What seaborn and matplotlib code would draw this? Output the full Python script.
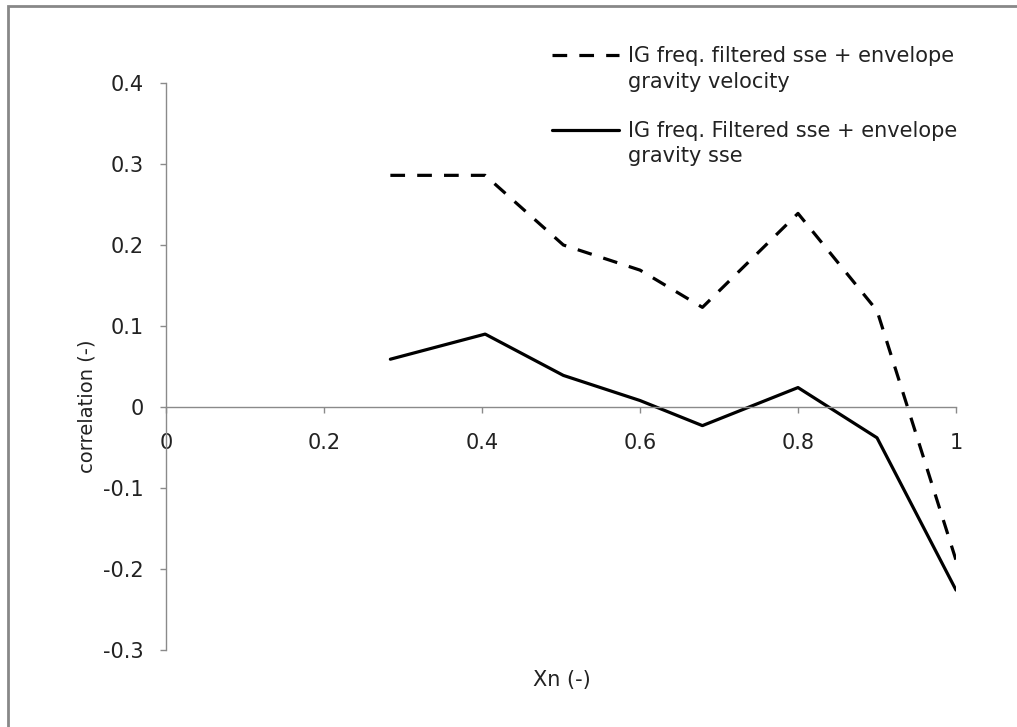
import matplotlib
matplotlib.use("Agg")
import matplotlib.pyplot as plt
import seaborn as sns
import pandas as pd
from matplotlib.patches import Rectangle
from matplotlib.lines import Line2D
from matplotlib.legend_handler import HandlerLine2D

# Normalised position along the profile
xn = [0.284, 0.404, 0.503, 0.600, 0.679, 0.800, 0.900, 1.000]
# Correlation of IG filtered surface elevation with envelope gravity velocity
corr_velocity = [0.286, 0.286, 0.200, 0.169, 0.123, 0.239, 0.119, -0.189]
# Correlation of IG filtered surface elevation with envelope gravity sse
corr_sse = [0.059, 0.090, 0.039, 0.008, -0.023, 0.024, -0.038, -0.226]

label_velocity = "IG freq. filtered sse + envelope\ngravity velocity"
label_sse = "IG freq. Filtered sse + envelope\ngravity sse"

x_ticks = [0, 0.2, 0.4, 0.6, 0.8, 1.0]
x_ticklabels = ["0", "0.2", "0.4", "0.6", "0.8", "1"]
y_ticks = [-0.3, -0.2, -0.1, 0, 0.1, 0.2, 0.3, 0.4]
y_ticklabels = ["-0.3", "-0.2", "-0.1", "0", "0.1", "0.2", "0.3", "0.4"]


class TopAlignedLineHandler(HandlerLine2D):
    """Legend line drawn level with the first row of a two-row label."""

    def __init__(self, lift, **kwargs):
        super().__init__(**kwargs)
        self.lift = lift

    def create_artists(self, legend, orig_handle, xdescent, ydescent,
                       width, height, fontsize, trans):
        artists = super().create_artists(legend, orig_handle, xdescent,
                                         ydescent, width, height,
                                         fontsize, trans)
        for art in artists:
            art.set_ydata([y + self.lift * fontsize for y in art.get_ydata()])
        return artists


sns.set_theme(style="white")
plt.rcParams["font.family"] = ["DejaVu Sans"]

W, H = 1017, 727
fig = plt.figure(figsize=(W / 100, H / 100), dpi=100)
ax = fig.add_axes([166 / W, 1 - 650 / H, 790 / W, 567 / H])

df = pd.DataFrame({
    "xn": xn * 2,
    "corr": corr_velocity + corr_sse,
    "series": [label_velocity] * len(xn) + [label_sse] * len(xn),
})

sns.lineplot(data=df, x="xn", y="corr", style="series",
             style_order=[label_velocity, label_sse],
             dashes={label_velocity: (4.6, 3.8), label_sse: ""},
             color="black", linewidth=2.3, ax=ax, sort=False)

axis_grey = "#8a8a8a"
text_col = "#222222"
fs = 15

ax.set_xlim(0, 1)
ax.set_ylim(-0.3, 0.4)
ax.set_xticks(x_ticks)
ax.set_xticklabels(x_ticklabels)
ax.set_yticks(y_ticks)
ax.set_yticklabels(y_ticklabels)

for side in ("top", "right"):
    ax.spines[side].set_visible(False)
ax.spines["bottom"].set_position(("data", 0))
for side in ("left", "bottom"):
    ax.spines[side].set_color(axis_grey)
    ax.spines[side].set_linewidth(1.0)

ax.tick_params(axis="both", which="major", direction="out", length=4,
               width=1.0, color=axis_grey, labelsize=fs,
               labelcolor=text_col)
ax.tick_params(axis="x", pad=15, bottom=True)
ax.tick_params(axis="y", pad=12, left=True)

ax.set_xlabel("Xn (-)", fontsize=fs, color=text_col)
ax.set_ylabel("correlation (-)", fontsize=14, color=text_col)
ax.xaxis.set_label_coords(0.501, -0.035)
ax.yaxis.set_label_coords(-0.088, 0.43)

handles, labels = ax.get_legend_handles_labels()
leg = ax.legend(handles, labels, loc="upper left",
                bbox_to_anchor=(552 / W, 1 - 46 / H),
                bbox_transform=fig.transFigure, frameon=False,
                fontsize=fs, handlelength=3.2, handletextpad=0.45,
                labelspacing=1.4, borderaxespad=0, borderpad=0,
                labelcolor=text_col,
                handler_map={Line2D: TopAlignedLineHandler(0.68)})
for t in leg.get_texts():
    t.set_linespacing(1.35)

# outer chart border
fig.patches.append(Rectangle((8 / W, -0.1), 1.2, 1 - 6 / H + 0.1,
                             transform=fig.transFigure, fill=False,
                             edgecolor="#888888", linewidth=2.0))

fig.savefig("out.png", dpi=100)
